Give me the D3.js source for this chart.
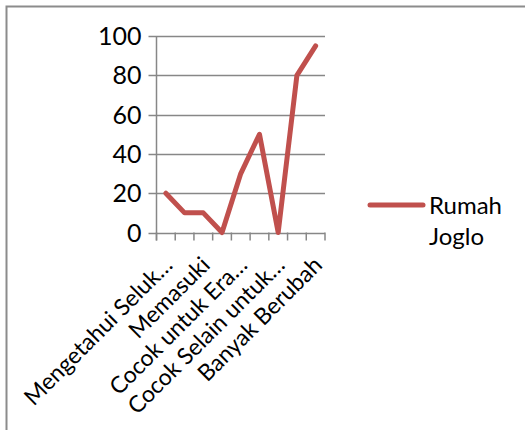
<!DOCTYPE html>
<html><head><meta charset="utf-8">
<script src="https://cdn.jsdelivr.net/npm/d3@7"></script>
<style>html,body{margin:0;padding:0;background:#fff;}svg{display:block;}</style>
</head><body>
<script>
const categories = ["Mengetahui Seluk…","Kategori 2","Memasuki","Kategori 4","Cocok untuk Era…","Kategori 6","Cocok Selain untuk…","Kategori 8","Banyak Berubah"];
const shownLabels = [0,2,4,6,8];
const values = [20,10,10,0,30,50,0,80,95];
const yTicks = [0,20,40,60,80,100];
const seriesName = ["Rumah","Joglo"];

const W=525,H=430;
const svg=d3.select("body").append("svg").attr("width",W).attr("height",H);
const font="Lato, 'Open Sans', sans-serif";
// border
svg.append("path").attr("d","M6.5,430 V6.5 H525").attr("fill","none").attr("stroke","#8c8c8c").attr("stroke-width",2);

const x0=156.5,x1=325,yTop=36,yBot=232.5;
const x=d3.scaleBand().domain(categories.map((d,i)=>i)).range([x0,x1]);
const y=d3.scaleLinear().domain([0,100]).range([yBot,yTop]);

const g=svg.append("g");
// gridlines
g.selectAll(".grid").data(yTicks).join("line")
 .attr("x1",x0-8).attr("x2",x1).attr("y1",d=>Math.round(y(d))+0.5).attr("y2",d=>Math.round(y(d))+0.5)
 .attr("stroke","#878787").attr("stroke-width",1.5);
// y axis line
g.append("line").attr("x1",x0).attr("x2",x0).attr("y1",yTop).attr("y2",yBot+8).attr("stroke","#878787").attr("stroke-width",1.5);
// x ticks
const tickPos=categories.map((d,i)=>x(i)).concat([x1]);
g.selectAll(".xt").data(tickPos).join("line")
 .attr("x1",d=>d).attr("x2",d=>d).attr("y1",yBot).attr("y2",yBot+8).attr("stroke","#878787").attr("stroke-width",1.5);
// y labels
g.selectAll(".yl").data(yTicks).join("text")
 .attr("x",x0-15).attr("y",d=>y(d)).attr("dy","0.36em").attr("text-anchor","end")
 .attr("font-family",font).attr("font-size",25).attr("fill","#000").text(d=>d);
// x labels
g.selectAll(".xl").data(shownLabels).join("text")
 .attr("transform",i=>`translate(${x(i)+x.bandwidth()/2+8},${yBot+34}) rotate(-45)`)
 .attr("text-anchor","end").attr("font-family",font).attr("font-size",23).attr("fill","#000")
 .text(i=>categories[i]);
// line
const line=d3.line().x((d,i)=>x(i)+x.bandwidth()/2).y(d=>y(d));
g.append("path").datum(values).attr("d",line).attr("fill","none").attr("stroke","#C0504D")
 .attr("stroke-width",5).attr("stroke-linejoin","round").attr("stroke-linecap","round");
// legend
svg.append("line").attr("x1",370).attr("x2",423).attr("y1",205).attr("y2",205).attr("stroke","#C0504D").attr("stroke-width",5).attr("stroke-linecap","round");
svg.selectAll(".lg").data(seriesName).join("text").attr("x",429).attr("y",(d,i)=>214+i*31)
 .attr("font-family",font).attr("font-size",24).attr("fill","#000").text(d=>d);
</script>
</body></html>
